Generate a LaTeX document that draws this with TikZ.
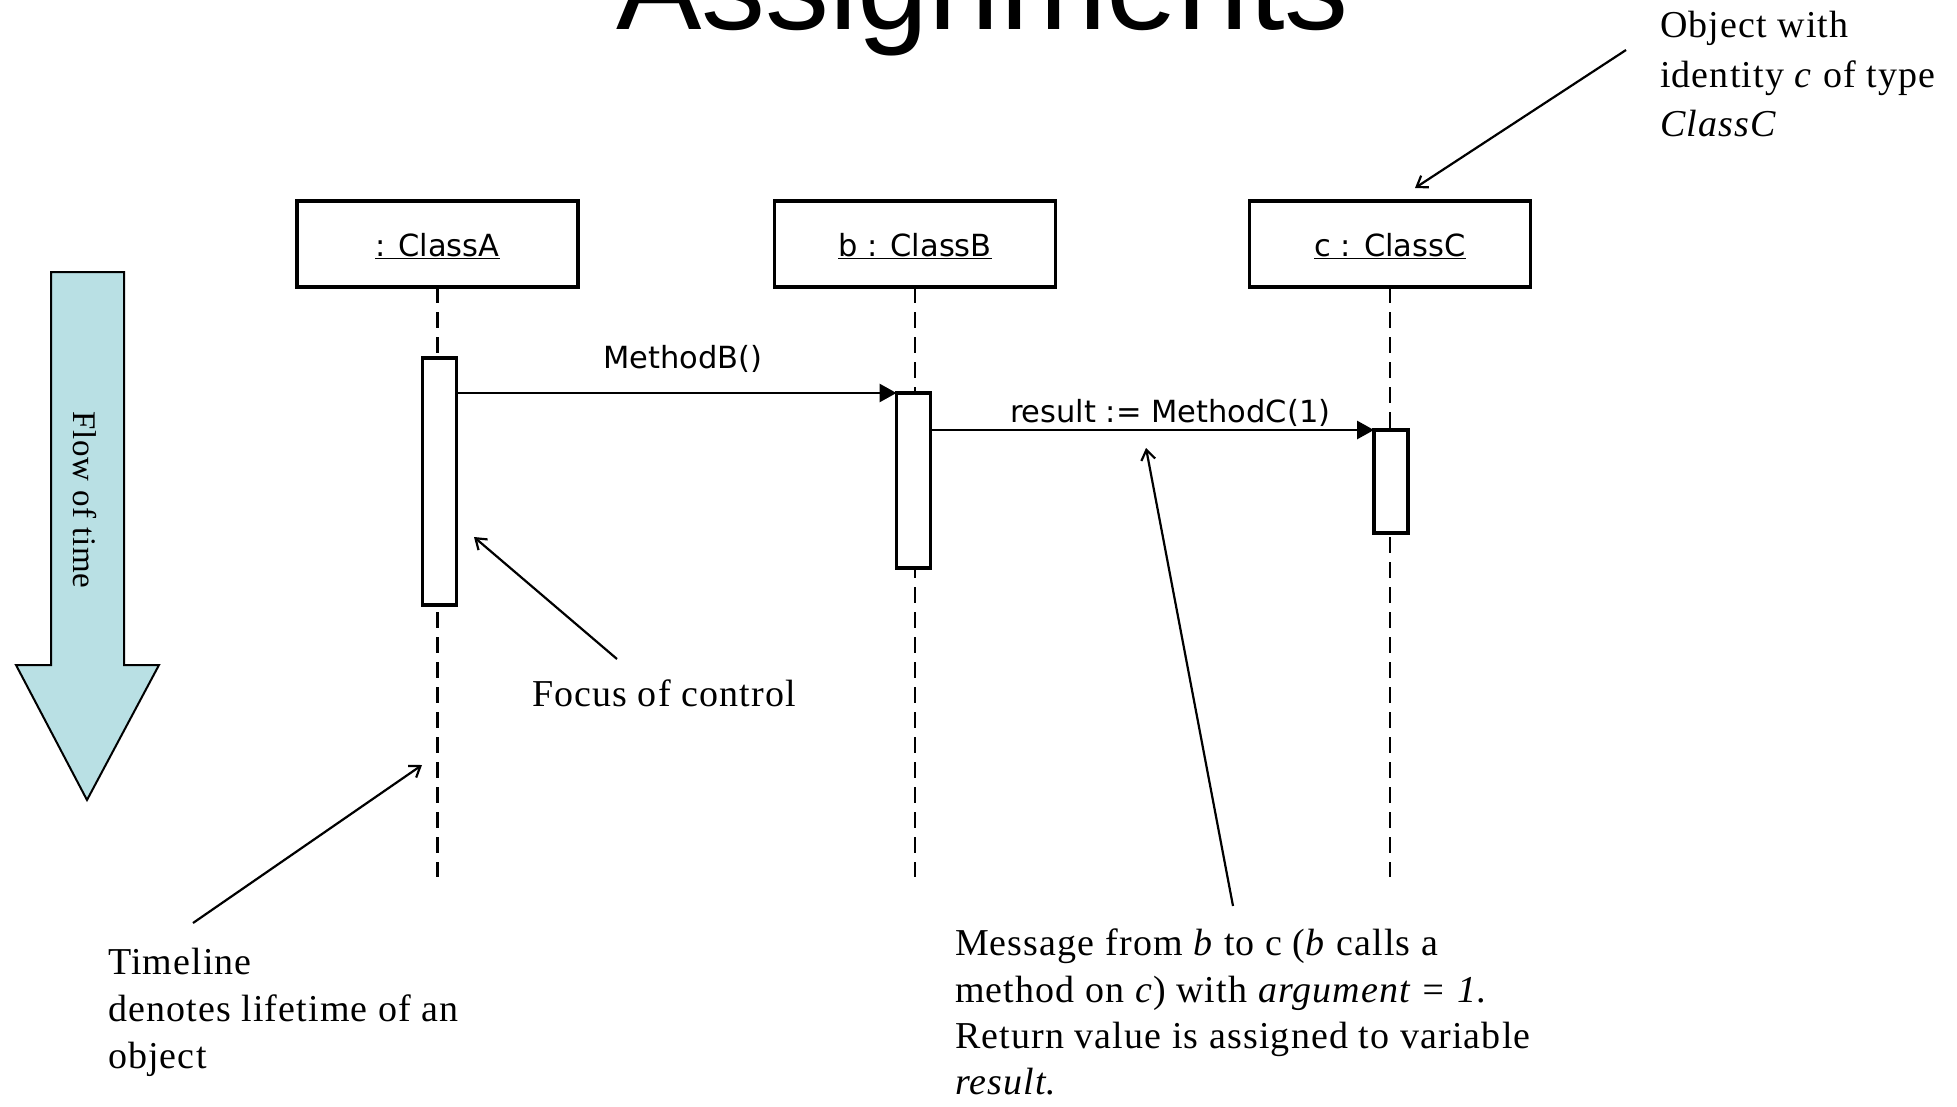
\documentclass[tikz,border=0pt]{standalone}
\usepackage{fontspec}
\setmainfont{Liberation Serif}
\newfontfamily\titlefont{Liberation Sans}
\newfontfamily\umlfont{DejaVu Sans}
\usetikzlibrary{arrows.meta}
\definecolor{timeblue}{RGB}{185,224,228}

\begin{document}
\begin{tikzpicture}[x=1pt,y=-1pt,
  every node/.style={inner sep=0pt, outer sep=0pt},
  objbox/.style={draw, line width=3.1pt, minimum width=281pt, minimum height=86pt},
  objlabel/.style={anchor=base, font=\umlfont\fontsize{30.5}{36}\selectfont},
  msglabel/.style={anchor=base west, font=\umlfont\fontsize{30.5}{36}\selectfont},
  actbox/.style={draw, fill=white, line width=3.1pt, minimum width=34pt},
  lifeline/.style={line width=2.9pt, dash pattern=on 16pt off 9pt},
  msg/.style={line width=2.9pt, -{Triangle[length=17pt,width=18pt]}},
  note/.style={line width=2.2pt, -{Straight Barb[length=10pt,width=14pt]}},
  notetext/.style={anchor=base west, font=\fontsize{38}{46}\selectfont\addfontfeature{LetterSpace=3}}
]
\clip (0,0) rectangle (1957,1106);

% title
\node[anchor=base west, font=\titlefont\fontsize{128}{150}\selectfont] (title) at (616,29) {Assignments};

% flow of time arrow
\draw[line width=2pt, fill=timeblue] (51,272) -- (124,272) -- (124,665) -- (159,665)
  -- (87,800) -- (16,665) -- (51,665) -- cycle;
\node[rotate=-90, font=\fontsize{33}{40}\selectfont\addfontfeature{LetterSpace=2}] (flow) at (85,500) {Flow of time};

% objects
\node[objbox] (A) at (437.5,244) {};
\node[objbox] (B) at (915,244) {};
\node[objbox] (C) at (1390,244) {};
\node[objlabel] (Alabel) at (437.5,256) {\underline{: ClassA}};
\node[objlabel] (Blabel) at (915,256) {\underline{b : ClassB}};
\node[objlabel] (Clabel) at (1390,256) {\underline{c : ClassC}};

% lifelines
\coordinate (endA) at (437.5,877);
\coordinate (endB) at (915,877);
\coordinate (endC) at (1390,877);
\draw[lifeline] (A.south) -- (endA);
\draw[lifeline] (B.south) -- (endB);
\draw[lifeline] (C.south) -- (endC);

% activations (focus of control)
\node[actbox, minimum height=247pt] (actA) at (439.5,481.5) {};
\node[actbox, minimum height=175pt] (actB) at (913.5,480.5) {};
\node[actbox, minimum height=103pt] (actC) at (1391,481.5) {};

% messages
\draw[msg] (actA.east |- actB.north) -- (actB.north west);
\node[msglabel] (mB) at (603,368) {MethodB()};
\draw[msg] (actB.east |- actC.north) -- (actC.north west);
\node[msglabel] (mC) at (1010,422) {result := MethodC(1)};

% notes
\node[notetext] (obj1) at (1660,37) {Object with};
\node[notetext] (obj2) at (1660,87) {identity \textit{c} of type};
\node[notetext] (obj3) at (1660,136) {\textit{ClassC}};
\coordinate (objtail) at (1626,50);
\coordinate (objhead) at (1415,188);
\draw[note] (objtail) -- (objhead);

\node[notetext] (focus) at (532,706) {Focus of control};
\coordinate (focustail) at (617,659);
\coordinate (focushead) at (474,537);
\draw[note] (focustail) -- (focushead);

\node[notetext] (tl1) at (108,974) {Timeline};
\node[notetext] (tl2) at (108,1021) {denotes lifetime of an};
\node[notetext] (tl3) at (108,1068) {object};
\coordinate (tltail) at (193,923);
\coordinate (tlhead) at (422,765);
\draw[note] (tltail) -- (tlhead);

\node[notetext] (ms1) at (955,955) {Message from \textit{b} to c (\textit{b} calls a};
\node[notetext] (ms2) at (955,1002) {method on \textit{c}) with \textit{argument = 1}.};
\node[notetext] (ms3) at (955,1048) {Return value is assigned to variable};
\node[notetext] (ms4) at (955,1094) {\textit{result}.};
\coordinate (mstail) at (1233,906);
\coordinate (mshead) at (1146,448);
\draw[note] (mstail) -- (mshead);
\end{tikzpicture}
\end{document}
